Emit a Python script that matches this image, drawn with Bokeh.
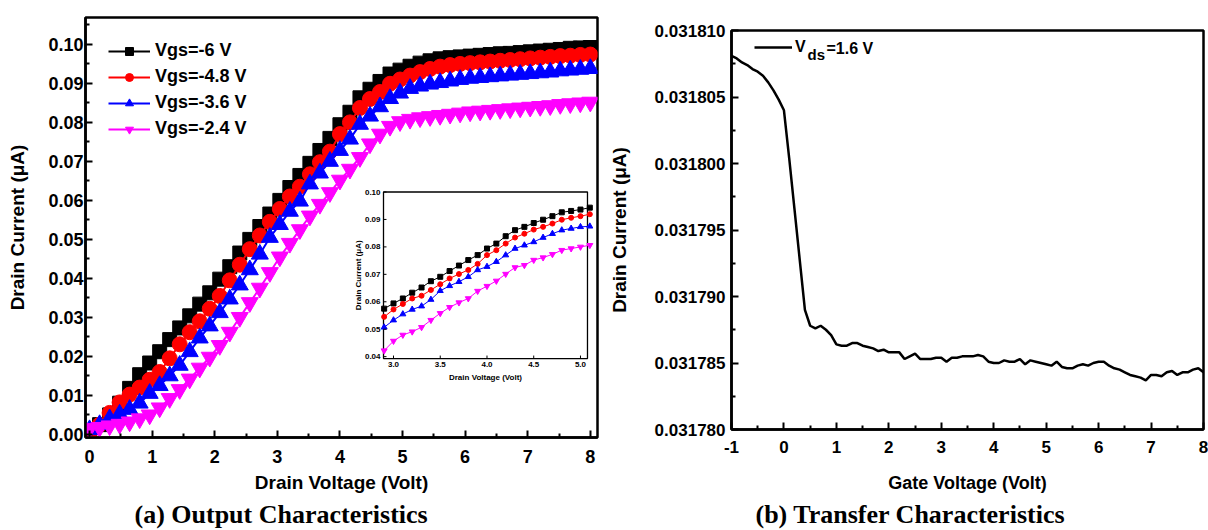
from math import pi
from bokeh.plotting import figure
from bokeh.layouts import row, column
from bokeh.models import Range1d, FixedTicker, PrintfTickFormatter, Legend, LegendItem
from bokeh.core.properties import value
from bokeh.embed import file_html
from bokeh.resources import INLINE

FONT = "Liberation Sans"
SERIF = "Liberation Serif"

# ---------------- (a) Output characteristics ----------------
vds = [0.00, 0.16, 0.32, 0.48, 0.64, 0.80, 0.96, 1.12, 1.28, 1.44,
       1.60, 1.76, 1.92, 2.08, 2.24, 2.40, 2.56, 2.72, 2.88, 3.04,
       3.20, 3.36, 3.52, 3.68, 3.84, 4.00, 4.16, 4.32, 4.48, 4.64,
       4.80, 4.96, 5.12, 5.28, 5.44, 5.60, 5.76, 5.92, 6.08, 6.24,
       6.40, 6.56, 6.72, 6.88, 7.04, 7.20, 7.36, 7.52, 7.68, 7.84, 8.00]
id_vgs_6 = [0.0008, 0.0025, 0.0050, 0.0080, 0.0118, 0.0153, 0.0183, 0.0212, 0.0243, 0.0273,
            0.0304, 0.0334, 0.0363, 0.0398, 0.0430, 0.0465, 0.0500, 0.0533, 0.0565, 0.0600,
            0.0633, 0.0664, 0.0695, 0.0728, 0.0759, 0.0794, 0.0826, 0.0863, 0.0885, 0.0905,
            0.0924, 0.0934, 0.0944, 0.0952, 0.0958, 0.0963, 0.0966, 0.0968, 0.0970, 0.0972,
            0.0974, 0.0976, 0.0977, 0.0979, 0.0981, 0.0983, 0.0985, 0.0987, 0.0990, 0.0991, 0.0992]
id_vgs_48 = [0.0003, 0.0025, 0.0055, 0.0082, 0.0102, 0.0120, 0.0140, 0.0160, 0.0195, 0.0231,
             0.0262, 0.0290, 0.0322, 0.0355, 0.0395, 0.0435, 0.0475, 0.0510, 0.0545, 0.0578,
             0.0610, 0.0635, 0.0667, 0.0698, 0.0725, 0.0770, 0.0800, 0.0837, 0.0860, 0.0878,
             0.0899, 0.0910, 0.0920, 0.0929, 0.0937, 0.0943, 0.0947, 0.0950, 0.0952, 0.0954,
             0.0956, 0.0958, 0.0960, 0.0962, 0.0964, 0.0966, 0.0968, 0.0970, 0.0971, 0.0973, 0.0974]
id_vgs_36 = [0.0012, 0.0025, 0.0040, 0.0052, 0.0064, 0.0080, 0.0105, 0.0125, 0.0150, 0.0177,
             0.0212, 0.0247, 0.0278, 0.0312, 0.0347, 0.0383, 0.0422, 0.0462, 0.0505, 0.0538,
             0.0572, 0.0598, 0.0642, 0.0670, 0.0700, 0.0728, 0.0757, 0.0795, 0.0816, 0.0840,
             0.0861, 0.0875, 0.0887, 0.0893, 0.0898, 0.0902, 0.0906, 0.0910, 0.0913, 0.0915,
             0.0917, 0.0919, 0.0921, 0.0923, 0.0925, 0.0927, 0.0929, 0.0932, 0.0934, 0.0936, 0.0938]
id_vgs_24 = [0.0015, 0.0018, 0.0022, 0.0026, 0.0032, 0.0040, 0.0050, 0.0068, 0.0092, 0.0115,
             0.0142, 0.0170, 0.0198, 0.0228, 0.0262, 0.0300, 0.0338, 0.0375, 0.0415, 0.0455,
             0.0490, 0.0525, 0.0560, 0.0590, 0.0620, 0.0652, 0.0680, 0.0710, 0.0745, 0.0770,
             0.0790, 0.0802, 0.0808, 0.0812, 0.0815, 0.0818, 0.0821, 0.0824, 0.0827, 0.0829,
             0.0831, 0.0833, 0.0835, 0.0837, 0.0839, 0.0841, 0.0843, 0.0846, 0.0848, 0.0850, 0.0852]
series_labels = ["Vgs=-6 V", "Vgs=-4.8 V", "Vgs=-3.6 V", "Vgs=-2.4 V"]
series_colors = ["#000000", "#ff0000", "#0000ff", "#ff00ff"]
series_markers = ["square", "circle", "triangle", "inverted_triangle"]
series_sizes = [14, 15, 17, 17]
inset_sizes = [5, 5, 6, 6]

# inset (zoom of 2.9 - 5.1 V)
vds_inset = [2.9, 3.0, 3.1, 3.2, 3.3, 3.4, 3.5, 3.6, 3.7, 3.8, 3.9, 4.0,
             4.1, 4.2, 4.3, 4.4, 4.5, 4.6, 4.7, 4.8, 4.9, 5.0, 5.1]
in_vgs_6 = [0.0575, 0.0594, 0.0612, 0.0633, 0.0652, 0.0675, 0.0691, 0.0712, 0.0732, 0.0752, 0.0770, 0.0794,
            0.0812, 0.0839, 0.0861, 0.0873, 0.0887, 0.0899, 0.0912, 0.0926, 0.0931, 0.0936, 0.0943]
in_vgs_48 = [0.0545, 0.0572, 0.0592, 0.0612, 0.0622, 0.0643, 0.0664, 0.0685, 0.0701, 0.0716, 0.0738, 0.0770,
             0.0788, 0.0812, 0.0834, 0.0848, 0.0863, 0.0873, 0.0885, 0.0899, 0.0906, 0.0912, 0.0919]
in_vgs_36 = [0.0507, 0.0533, 0.0555, 0.0572, 0.0584, 0.0608, 0.0640, 0.0658, 0.0673, 0.0691, 0.0716, 0.0728,
             0.0746, 0.0770, 0.0794, 0.0806, 0.0818, 0.0834, 0.0848, 0.0861, 0.0867, 0.0873, 0.0875]
in_vgs_24 = [0.0422, 0.0457, 0.0479, 0.0491, 0.0507, 0.0533, 0.0558, 0.0580, 0.0597, 0.0612, 0.0639, 0.0657,
             0.0676, 0.0701, 0.0725, 0.0733, 0.0752, 0.0761, 0.0773, 0.0788, 0.0794, 0.0800, 0.0806]

a_xticks = [0, 1, 2, 3, 4, 5, 6, 7, 8]
a_xminor = [0.5, 1.5, 2.5, 3.5, 4.5, 5.5, 6.5, 7.5]
a_yticks = [0.00, 0.01, 0.02, 0.03, 0.04, 0.05, 0.06, 0.07, 0.08, 0.09, 0.10]
a_yminor = [0.005, 0.015, 0.025, 0.035, 0.045, 0.055, 0.065, 0.075, 0.085, 0.095, 0.105]
in_xticks = [3.0, 3.5, 4.0, 4.5, 5.0]
in_xlabels = ["3.0", "3.5", "4.0", "4.5", "5.0"]
in_yticks = [0.04, 0.05, 0.06, 0.07, 0.08, 0.09, 0.10]
in_ylabels = ["0.04", "0.05", "0.06", "0.07", "0.08", "0.09", "0.10"]

# ---------------- (b) Transfer characteristics ----------------
vgs = [-1.0, -0.9, -0.8, -0.7, -0.6, -0.5, -0.4, -0.3, -0.2, -0.1,
       0.0, 0.1, 0.2, 0.3, 0.4, 0.5, 0.6, 0.7, 0.8, 0.9,
       1.0, 1.1, 1.2, 1.3, 1.4, 1.5, 1.6, 1.7, 1.8, 1.9,
       2.0, 2.1, 2.2, 2.3, 2.4, 2.5, 2.6, 2.7, 2.8, 2.9,
       3.0, 3.1, 3.2, 3.3, 3.4, 3.5, 3.6, 3.7, 3.8, 3.9,
       4.0, 4.1, 4.2, 4.3, 4.4, 4.5, 4.6, 4.7, 4.8, 4.9,
       5.0, 5.1, 5.2, 5.3, 5.4, 5.5, 5.6, 5.7, 5.8, 5.9,
       6.0, 6.1, 6.2, 6.3, 6.4, 6.5, 6.6, 6.7, 6.8, 6.9,
       7.0, 7.1, 7.2, 7.3, 7.4, 7.5, 7.6, 7.7, 7.8, 7.9, 8.0]
id_vds16 = [0.0318081, 0.0318079, 0.0318076, 0.0318074, 0.0318071, 0.0318069, 0.0318066, 0.0318061, 0.0318055, 0.0318048,
            0.0318040, 0.0318004, 0.0317966, 0.0317928, 0.0317890, 0.0317878, 0.0317876, 0.0317878, 0.0317875, 0.0317871,
            0.0317864, 0.0317863, 0.0317863, 0.0317865, 0.0317865, 0.0317863, 0.0317862, 0.0317861, 0.0317859, 0.0317860,
            0.0317858, 0.0317858, 0.0317858, 0.0317853, 0.0317855, 0.0317857, 0.0317853, 0.0317853, 0.0317853, 0.0317854,
            0.0317854, 0.0317851, 0.0317854, 0.0317854, 0.0317855, 0.0317855, 0.0317855, 0.0317856, 0.0317855, 0.0317851,
            0.0317850, 0.0317850, 0.0317852, 0.0317851, 0.0317851, 0.0317853, 0.0317849, 0.0317852, 0.0317851, 0.0317850,
            0.0317849, 0.0317848, 0.0317851, 0.0317847, 0.0317846, 0.0317846, 0.0317848, 0.0317849, 0.0317848, 0.0317850,
            0.0317851, 0.0317851, 0.0317848, 0.0317846, 0.0317845, 0.0317843, 0.0317841, 0.0317840, 0.0317839, 0.0317837,
            0.0317841, 0.0317841, 0.0317840, 0.0317843, 0.0317844, 0.0317841, 0.0317843, 0.0317843, 0.0317845, 0.0317846,
            0.0317843]
b_xticks = [-1, 0, 1, 2, 3, 4, 5, 6, 7, 8]
b_xminor = [-0.5, 0.5, 1.5, 2.5, 3.5, 4.5, 5.5, 6.5, 7.5]
b_yticks = [0.031780, 0.031785, 0.031790, 0.031795, 0.031800, 0.031805, 0.031810]
b_yminor = [0.0317825, 0.0317875, 0.0317925, 0.0317975, 0.0318025, 0.0318075]


def style(p, tick_size, xlab_size, ylab_size, x_tick_standoff, y_tick_standoff, x_lab_standoff, y_lab_standoff):
    p.background_fill_color = "white"
    p.border_fill_color = "white"
    p.xgrid.visible = False
    p.ygrid.visible = False
    p.outline_line_color = "black"
    p.outline_line_width = 2.5
    p.outline_line_alpha = 1.0
    for ax, lab_size, tstand, lstand in ((p.xaxis[0], xlab_size, x_tick_standoff, x_lab_standoff),
                                         (p.yaxis[0], ylab_size, y_tick_standoff, y_lab_standoff)):
        ax.axis_line_width = 2.5
        ax.axis_line_color = "black"
        ax.major_tick_in = 7
        ax.major_tick_out = 0
        ax.minor_tick_in = 4
        ax.minor_tick_out = 0
        ax.major_tick_line_width = 2
        ax.minor_tick_line_width = 2
        ax.major_tick_line_color = "black"
        ax.minor_tick_line_color = "black"
        ax.major_label_text_font = FONT
        ax.major_label_text_font_style = "bold"
        ax.major_label_text_font_size = tick_size
        ax.major_label_text_color = "black"
        ax.major_label_standoff = tstand
        ax.axis_label_text_font = FONT
        ax.axis_label_text_font_style = "bold"
        ax.axis_label_text_font_size = lab_size
        ax.axis_label_text_color = "black"
        ax.axis_label_standoff = lstand
    p.title.text_font = SERIF
    p.title.text_font_style = "bold"
    p.title.text_font_size = "26px"
    p.title.text_color = "black"
    p.title.align = "left"
    p.title.standoff = 4


# ---------- panel (a) ----------
xr_a = Range1d(-0.065, 8.115)
yr_a = Range1d(-0.0008, 0.1069)
p1 = figure(width=600, height=530, x_range=xr_a, y_range=yr_a,
            min_border_left=85, min_border_right=3, min_border_top=17, min_border_bottom=92,
            title="(a) Output Characteristics", title_location="below",
            output_backend="svg", toolbar_location=None)
style(p1, "18px", "19px", "19px", 12, 2, 6, 17)
p1.title.offset = 49
p1.xaxis.axis_label = "Drain Voltage (Volt)"
p1.yaxis.axis_label = "Drain Current (μA)"
p1.xaxis.ticker = FixedTicker(ticks=a_xticks, minor_ticks=a_xminor)
p1.yaxis.ticker = FixedTicker(ticks=a_yticks, minor_ticks=a_yminor)
p1.xaxis.formatter = PrintfTickFormatter(format="%d")
p1.yaxis.formatter = PrintfTickFormatter(format="%.2f")

main_series = [id_vgs_6, id_vgs_48, id_vgs_36, id_vgs_24]
items = []
for ys, lab, col, mk, sz in zip(main_series, series_labels, series_colors, series_markers, series_sizes):
    lr = p1.line(vds, ys, line_color=col, line_width=2)
    sr = p1.scatter(vds, ys, marker=mk, size=sz, fill_color=col, line_color=col)
    items.append(LegendItem(label=lab, renderers=[lr, sr]))

leg1 = Legend(items=items, location="top_left", margin=23, padding=0, spacing=5,
              glyph_width=42, glyph_height=20, label_height=20, label_standoff=5,
              label_text_font=FONT, label_text_font_style="bold", label_text_font_size="18px",
              label_text_color="black", background_fill_alpha=0, border_line_alpha=0)
p1.add_layout(leg1)

# inset drawn through a sub-coordinate system of panel (a)
in_xs = Range1d(2.893, 5.075)
in_ys = Range1d(0.0393, 0.1000)
ins = p1.subplot(x_source=in_xs, y_source=in_ys,
                 x_target=Range1d(4.696, 7.955), y_target=Range1d(0.01944, 0.06215))
ins.quad(left=[in_xs.start], right=[in_xs.end], bottom=[in_ys.start], top=[in_ys.end],
         fill_color="white", line_color="black", line_width=1.3)
inset_series = [in_vgs_6, in_vgs_48, in_vgs_36, in_vgs_24]
for ys, col, mk, sz in zip(inset_series, series_colors, series_markers, inset_sizes):
    ins.line(vds_inset, ys, line_color=col, line_width=1)
    ins.scatter(vds_inset, ys, marker=mk, size=sz, fill_color=col, line_color=col)
tick_dx = 0.032
tick_dy = 0.0011
ins.segment(x0=in_xticks, x1=in_xticks, y0=[in_ys.start] * len(in_xticks),
            y1=[in_ys.start + tick_dy] * len(in_xticks), line_color="black", line_width=1)
ins.segment(x0=[in_xs.start] * len(in_yticks), x1=[in_xs.start + tick_dx] * len(in_yticks),
            y0=in_yticks, y1=in_yticks, line_color="black", line_width=1)
ins.text(x=in_xticks, y=[in_ys.start] * len(in_xticks), text=in_xlabels, y_offset=3,
         text_align="center", text_baseline="top", text_font=value(FONT),
         text_font_style="bold", text_font_size="8px", text_color="black")
ins.text(x=[in_xs.start] * len(in_yticks), y=in_yticks, text=in_ylabels, x_offset=-3,
         text_align="right", text_baseline="middle", text_font=value(FONT),
         text_font_style="bold", text_font_size="8px", text_color="black")
ins.text(x=[(in_xs.start + in_xs.end) / 2], y=[in_ys.start], text=["Drain Voltage (Volt)"], y_offset=14,
         text_align="center", text_baseline="top", text_font=value(FONT),
         text_font_style="bold", text_font_size="8px", text_color="black")
ins.text(x=[in_xs.start], y=[(in_ys.start + in_ys.end) / 2], text=["Drain Current (μA)"], x_offset=-25,
         angle=pi / 2, text_align="center", text_baseline="middle", text_font=value(FONT),
         text_font_style="bold", text_font_size="8px", text_color="black")

# ---------- panel (b) ----------
xr_b = Range1d(-1, 8)
yr_b = Range1d(0.031780, 0.031810)
p2 = figure(width=608, height=530, x_range=xr_b, y_range=yr_b,
            min_border_left=131, min_border_right=5, min_border_top=30, min_border_bottom=100,
            title="(b) Transfer Characteristics", title_location="below",
            output_backend="svg", toolbar_location=None)
style(p2, "17px", "18px", "19px", 11, 6, 17, 22)
p2.title.offset = 24
p2.xaxis.axis_label = "Gate Voltage (Volt)"
p2.yaxis.axis_label = "Drain Current (μA)"
p2.xaxis.ticker = FixedTicker(ticks=b_xticks, minor_ticks=b_xminor)
p2.yaxis.ticker = FixedTicker(ticks=b_yticks, minor_ticks=b_yminor)
p2.xaxis.formatter = PrintfTickFormatter(format="%d")
p2.yaxis.formatter = PrintfTickFormatter(format="%.6f")

tr = p2.line(vgs, id_vds16, line_color="black", line_width=2.5)
leg2 = Legend(items=[LegendItem(label="V", renderers=[tr])], location=(23, 372), margin=0, padding=0,
              glyph_width=38, glyph_height=20, label_height=20, label_standoff=3,
              label_text_font=FONT, label_text_font_style="bold", label_text_font_size="16px",
              label_text_color="black", background_fill_alpha=0, border_line_alpha=0)
p2.add_layout(leg2)
p2.text(x=[xr_b.start], y=[yr_b.end], text=["ds"], x_offset=76, y_offset=24,
        text_align="left", text_baseline="middle", text_font=value(FONT),
        text_font_style="bold", text_font_size="15px", text_color="black")
p2.text(x=[xr_b.start], y=[yr_b.end], text=["=1.6 V"], x_offset=95, y_offset=18,
        text_align="left", text_baseline="middle", text_font=value(FONT),
        text_font_style="bold", text_font_size="16px", text_color="black")

layout = row(column(p1), column(p2))
open("out.html", "w").write(file_html(layout, INLINE))
